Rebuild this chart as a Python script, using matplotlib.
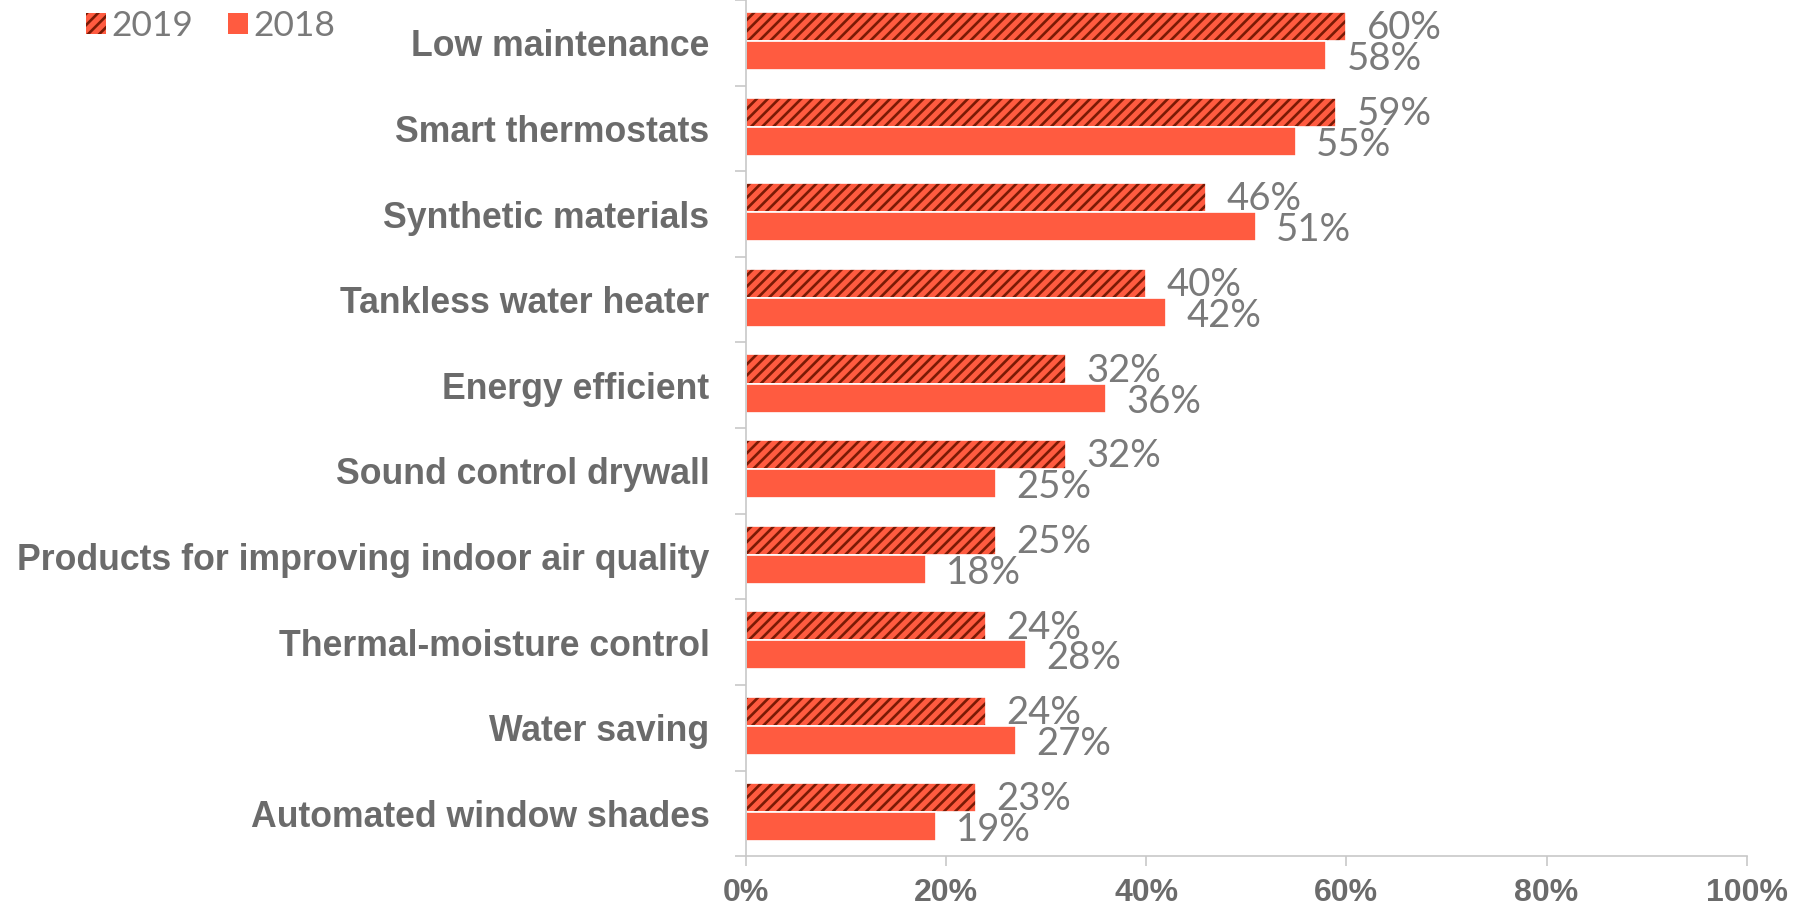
import numpy as np
import matplotlib
matplotlib.use("Agg")
import matplotlib.pyplot as plt
from matplotlib.patches import Patch

# survey results, top to bottom
features = ['Low maintenance', 'Smart thermostats', 'Synthetic materials',
            'Tankless water heater', 'Energy efficient', 'Sound control drywall',
            'Products for improving indoor air quality', 'Thermal-moisture control',
            'Water saving', 'Automated window shades']
share_2019 = [60, 59, 46, 40, 32, 32, 25, 24, 24, 23]
share_2018 = [58, 55, 51, 42, 36, 25, 18, 28, 27, 19]
xtick_values = [0, 20, 40, 60, 80, 100]

ORANGE = '#FF5B40'
DARK = '#7A1A05'
LABEL_GREY = '#6B6B6B'
VALUE_GREY = '#7A7A7A'

plt.rcParams['hatch.linewidth'] = 1.9

fig = plt.figure(figsize=(18.14, 9.05), dpi=100)
ax = fig.add_axes([0.411, 0.054, 0.552, 0.946])

y = np.arange(len(features)) - 0.02
h = 0.34

# 2019 bars: orange with dark diagonal stripes
ax.barh(y - h / 2, share_2019, height=h, color=ORANGE, edgecolor=DARK,
        hatch='///', linewidth=0)
ax.barh(y - h / 2, share_2019, height=h, fill=False, edgecolor='white', linewidth=1.2)
ax.barh(y + h / 2, share_2018, height=h, color=ORANGE, edgecolor='white', linewidth=1.2)

value_font = dict(family=['Lato', 'DejaVu Sans'], weight='normal', size=27.5, color=VALUE_GREY)
for i in range(len(features)):
    ax.text(share_2019[i] + 2.0, y[i] - h / 2 + 0.02, '%d%%' % share_2019[i],
            va='center', ha='left', **value_font)
    ax.text(share_2018[i] + 2.0, y[i] + h / 2 + 0.04, '%d%%' % share_2018[i],
            va='center', ha='left', **value_font)

ax.set_xlim(0, 100)
ax.set_ylim(len(features) - 0.5, -0.5)

ax.set_yticks(np.arange(len(features)))
ax.set_yticklabels(features, fontsize=25.7, fontweight='bold', color=LABEL_GREY,
                   family=['Liberation Sans', 'DejaVu Sans'])
ax.tick_params(axis='y', which='major', length=0, pad=26)
ax.set_yticks(np.arange(-0.5, len(features), 1), minor=True)
ax.tick_params(axis='y', which='minor', length=8, color='#C8C8C8', width=1.2)

ax.set_xticks(xtick_values)
ax.set_xticklabels(['%d%%' % v for v in xtick_values], fontsize=23, fontweight='bold',
                   color=LABEL_GREY, family=['Liberation Sans Narrow', 'Liberation Sans'])
ax.tick_params(axis='x', length=7, color='#C8C8C8', width=1.2, pad=9)

for side in ['top', 'right']:
    ax.spines[side].set_visible(False)
for side in ['left', 'bottom']:
    ax.spines[side].set_color('#C8C8C8')
    ax.spines[side].set_linewidth(1.2)

handles = [Patch(facecolor=ORANGE, edgecolor=DARK, hatch='///', linewidth=0, label='2019'),
           Patch(facecolor=ORANGE, linewidth=0, label='2018')]
leg = fig.legend(handles=handles, loc='center left', bbox_to_anchor=(0.03, 0.971),
                 ncol=2, frameon=False, handlelength=0.55, handleheight=0.55,
                 handletextpad=0.15, columnspacing=1.0,
                 prop=dict(family=['Lato', 'DejaVu Sans'], weight='normal', size=25.5))
for t in leg.get_texts():
    t.set_color(VALUE_GREY)

fig.savefig('out.png', dpi=100, facecolor='white')
